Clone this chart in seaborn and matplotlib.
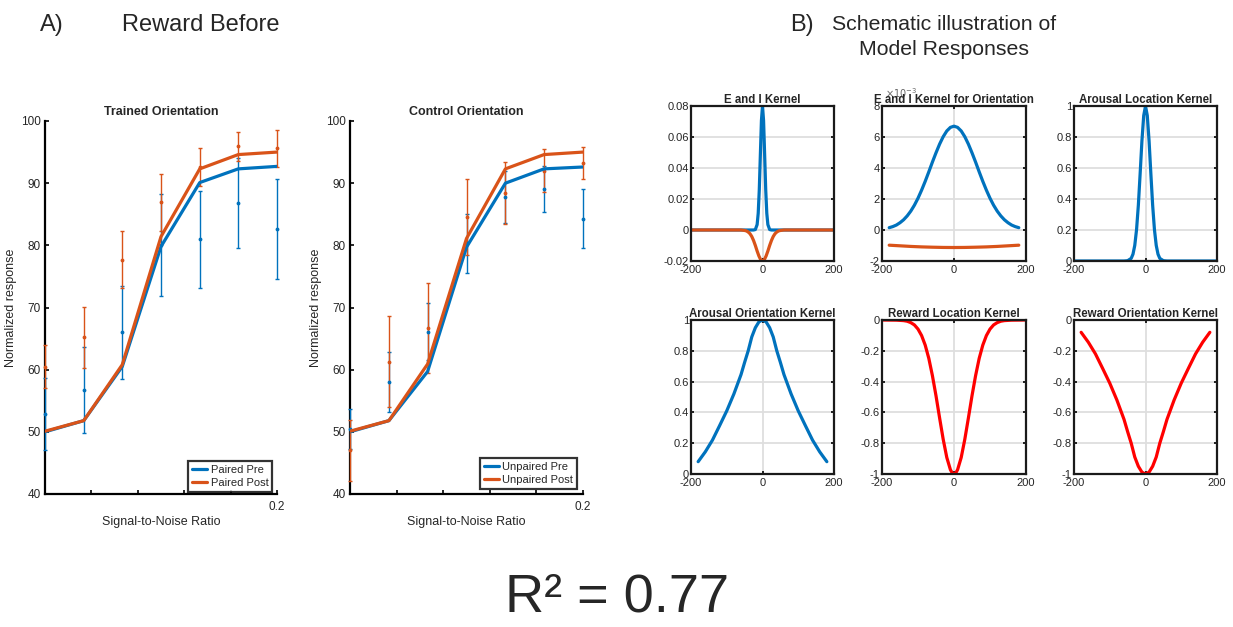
import numpy as np
import matplotlib
matplotlib.use("Agg")
import matplotlib.pyplot as plt
import seaborn as sns

# ---- data ----
snr = [0.1, 0.1167, 0.1333, 0.15, 0.1667, 0.1833, 0.2]

trained_pre_fit = [50.0, 51.8, 60.5, 79.8, 90.1, 92.3, 92.7]
trained_post_fit = [50.1, 51.8, 60.8, 81.4, 92.3, 94.6, 95.0]
trained_pre_mean = [52.9, 56.7, 66.0, 80.0, 81.0, 86.8, 82.6]
trained_pre_err = [5.8, 6.9, 7.5, 8.2, 7.8, 7.2, 8.0]
trained_post_mean = [60.5, 65.2, 77.7, 86.9, 92.6, 95.9, 95.6]
trained_post_err = [3.4, 4.9, 4.6, 4.6, 3.0, 2.4, 3.0]

control_pre_fit = [50.0, 51.8, 59.7, 79.7, 90.0, 92.3, 92.6]
control_post_fit = [50.1, 51.8, 60.9, 81.1, 92.3, 94.6, 95.0]
control_pre_mean = [50.5, 58.0, 66.1, 80.3, 87.8, 89.0, 84.3]
control_pre_err = [3.2, 4.8, 4.6, 4.8, 4.2, 3.7, 4.7]
control_post_mean = [47.0, 61.3, 66.7, 84.6, 88.4, 92.0, 93.2]
control_post_err = [4.9, 7.3, 7.2, 6.1, 5.0, 3.5, 2.6]

# E and I kernel (location)
ei_exc_x = [-200, -40, -25, -20, -15, -12, -9, -6, -3, 0, 3, 6, 9, 12, 15, 20, 25, 40, 200]
ei_exc_y = [0, 0, 0, 0.0003, 0.0035, 0.0108, 0.026, 0.0485, 0.0706, 0.08,
            0.0706, 0.0485, 0.026, 0.0108, 0.0035, 0.0003, 0, 0, 0]
ei_inh_x = [-200, -60, -50, -45, -40, -35, -30, -25, -20, -15, -10, -5, 0,
            5, 10, 15, 20, 25, 30, 35, 40, 45, 50, 60, 200]
ei_inh_y = [0, 0, -0.0003, -0.0006, -0.0013, -0.0024, -0.0042, -0.0068, -0.01, -0.0136, -0.0168, -0.0192, -0.02,
            -0.0192, -0.0168, -0.0136, -0.01, -0.0068, -0.0042, -0.0024, -0.0013, -0.0006, -0.0003, 0, 0]

# E and I kernel for orientation (x 10^-3)
ori_x = [-180, -170, -160, -150, -140, -130, -120, -110, -100, -90, -80, -70, -60, -50, -40, -30, -20, -10,
         0, 10, 20, 30, 40, 50, 60, 70, 80, 90, 100, 110, 120, 130, 140, 150, 160, 170, 180]
ori_exc_y = [0.15, 0.22, 0.32, 0.47, 0.66, 0.91, 1.22, 1.60, 2.05, 2.57, 3.14, 3.75, 4.38, 4.98, 5.54, 6.02, 6.39, 6.62,
             6.70, 6.62, 6.39, 6.02, 5.54, 4.98, 4.38, 3.75, 3.14, 2.57, 2.05, 1.60, 1.22, 0.91, 0.66, 0.47, 0.32, 0.22, 0.15]
ori_inh_x = [-180, -150, -120, -90, -60, -30, 0, 30, 60, 90, 120, 150, 180]
ori_inh_y = [-0.98, -1.02, -1.06, -1.09, -1.11, -1.125, -1.13, -1.125, -1.11, -1.09, -1.06, -1.02, -0.98]

# arousal kernels
aro_loc_x = [-200, -60, -50, -40, -35, -30, -25, -20, -15, -10, -5, 0, 5, 10, 15, 20, 25, 30, 35, 40, 50, 60, 200]
aro_loc_y = [0, 0, 0.002, 0.017, 0.044, 0.101, 0.203, 0.36, 0.563, 0.775, 0.938, 1.0,
             0.938, 0.775, 0.563, 0.36, 0.203, 0.101, 0.044, 0.017, 0.002, 0, 0]
aro_ori_x = [-180, -160, -140, -120, -100, -80, -60, -50, -40, -30, -20, -10, 0,
             10, 20, 30, 40, 50, 60, 80, 100, 120, 140, 160, 180]
aro_ori_y = [0.08, 0.144, 0.22, 0.314, 0.41, 0.52, 0.646, 0.725, 0.80, 0.89, 0.95, 0.988, 1.0,
             0.988, 0.95, 0.89, 0.80, 0.725, 0.646, 0.52, 0.41, 0.314, 0.22, 0.144, 0.08]

# reward kernels
rew_loc_x = [-200, -160, -140, -130, -120, -110, -100, -90, -80, -70, -60, -50, -40, -30, -20, -10, -5, 0,
             5, 10, 20, 30, 40, 50, 60, 70, 80, 90, 100, 110, 120, 130, 140, 160, 200]
rew_loc_y = [0, -0.001, -0.004, -0.008, -0.017, -0.032, -0.059, -0.101, -0.163, -0.249, -0.361, -0.492, -0.636,
             -0.775, -0.893, -0.972, -0.993, -1.0, -0.993, -0.972, -0.893, -0.775, -0.636, -0.492, -0.361,
             -0.249, -0.163, -0.101, -0.059, -0.032, -0.017, -0.008, -0.004, -0.001, 0]
rew_ori_x = [-180, -160, -140, -120, -100, -80, -60, -50, -40, -30, -20, -10, 0,
             10, 20, 30, 40, 50, 60, 80, 100, 120, 140, 160, 180]
rew_ori_y = [-0.08, -0.144, -0.22, -0.314, -0.41, -0.52, -0.646, -0.725, -0.80, -0.89, -0.95, -0.988, -1.0,
             -0.988, -0.95, -0.89, -0.80, -0.725, -0.646, -0.52, -0.41, -0.314, -0.22, -0.144, -0.08]

# ---- style ----
sns.set_theme(style="ticks")
plt.rcParams["font.family"] = ["Liberation Sans", "DejaVu Sans"]
plt.rcParams["axes.unicode_minus"] = False
plt.rcParams["xtick.direction"] = "in"
plt.rcParams["ytick.direction"] = "in"

BLUE = "#0072BD"
ORANGE = "#D95319"
RED = "#FF0000"
TXT = "#262626"

fig = plt.figure(figsize=(12.33, 6.27), dpi=100)
W, H = 1233, 627


def rect(left, top, right, bottom):
    return [left / W, (H - bottom) / H, (right - left) / W, (bottom - top) / H]


def psych_panel(ax, title, pre_fit, post_fit, pre_m, pre_e, post_m, post_e, labels, leg_anchor):
    ax.errorbar(snr, pre_m, yerr=pre_e, fmt=".", color=BLUE, ms=3.5, elinewidth=1.0,
                capsize=1.5, capthick=1.0, clip_on=False, zorder=3)
    ax.errorbar(snr, post_m, yerr=post_e, fmt=".", color=ORANGE, ms=3.5, elinewidth=1.0,
                capsize=1.5, capthick=1.0, clip_on=False, zorder=3)
    sns.lineplot(x=snr, y=pre_fit, ax=ax, color=BLUE, linewidth=2.3, label=labels[0], zorder=4)
    sns.lineplot(x=snr, y=post_fit, ax=ax, color=ORANGE, linewidth=2.3, label=labels[1], zorder=4)
    ax.set_xlim(0.1, 0.2)
    ax.set_ylim(40, 100)
    ax.set_yticks(range(40, 101, 10))
    ax.set_xticks([0.1, 0.12, 0.14, 0.16, 0.18, 0.2])
    ax.set_xticklabels(["", "", "", "", "", "0.2"])
    sns.despine(ax=ax)
    for s in ("left", "bottom"):
        ax.spines[s].set_linewidth(1.6)
        ax.spines[s].set_color("black")
    ax.tick_params(axis="both", length=3, width=1.2, labelsize=8.5, colors="black",
                   labelcolor=TXT, pad=3)
    ax.tick_params(axis="x", pad=5)
    ax.set_title(title, fontsize=9, fontweight="bold", pad=4)
    ax.set_xlabel("Signal-to-Noise Ratio", fontsize=9, color=TXT, labelpad=2)
    ax.set_ylabel("Normalized response", fontsize=9, color=TXT, labelpad=3)
    leg = ax.legend(loc="lower right", bbox_to_anchor=leg_anchor, borderaxespad=0,
                    fontsize=8, frameon=True, fancybox=False, handlelength=1.4,
                    handletextpad=0.3, labelspacing=0.3, borderpad=0.35)
    leg.get_frame().set_edgecolor("black")
    leg.get_frame().set_linewidth(1.6)
    for line in leg.get_lines():
        line.set_linewidth(2.3)


axA1 = fig.add_axes(rect(45, 121, 277, 494))
psych_panel(axA1, "Trained Orientation", trained_pre_fit, trained_post_fit,
            trained_pre_mean, trained_pre_err, trained_post_mean, trained_post_err,
            ["Paired Pre", "Paired Post"], (0.98, 0.005))

axA2 = fig.add_axes(rect(350, 121, 583, 494))
psych_panel(axA2, "Control Orientation", control_pre_fit, control_post_fit,
            control_pre_mean, control_pre_err, control_post_mean, control_post_err,
            ["Unpaired Pre", "Unpaired Post"], (0.975, 0.013))


def kernel_panel(box, title, curves, ylim, yticks, xlim=(-200, 200)):
    ax = fig.add_axes(rect(*box))
    for xs, ys, c in curves:
        sns.lineplot(x=xs, y=ys, ax=ax, color=c, linewidth=2.3, zorder=3)
    ax.set_xlim(*xlim)
    ax.set_ylim(*ylim)
    ax.set_xticks([-200, 0, 200])
    ax.set_yticks(yticks)
    ax.set_yticklabels([("%g" % v) for v in yticks])
    ax.grid(True, color="#dedede", linewidth=1.3)
    ax.set_axisbelow(True)
    for s in ax.spines.values():
        s.set_linewidth(1.6)
        s.set_color("#1a1a1a")
        s.set_zorder(5)
    ax.tick_params(axis="both", length=2.5, width=1.2, labelsize=8, colors="black",
                   labelcolor=TXT, pad=1.5, top=True, right=True)
    ax.tick_params(axis="x", pad=3.2)
    ax.set_title(title, fontsize=8.3, fontweight="bold", pad=2.5)
    return ax


col = [(691, 834), (882, 1026), (1074, 1217)]
row = [(106, 261), (320, 474)]

kernel_panel((col[0][0], row[0][0], col[0][1], row[0][1]), "E and I Kernel",
             [(ei_exc_x, ei_exc_y, BLUE), (ei_inh_x, ei_inh_y, ORANGE)],
             (-0.02, 0.08), [-0.02, 0, 0.02, 0.04, 0.06, 0.08])
ax_ori = kernel_panel((col[1][0], row[0][0], col[1][1], row[0][1]), "E and I Kernel for Orientation",
                      [(ori_x, ori_exc_y, BLUE), (ori_inh_x, ori_inh_y, ORANGE)],
                      (-2, 8), [-2, 0, 2, 4, 6, 8])
ax_ori.text(0.02, 1.04, r"$\times10^{-3}$", transform=ax_ori.transAxes, fontsize=7,
            color="#666666", ha="left", va="bottom", zorder=0)
kernel_panel((col[2][0], row[0][0], col[2][1], row[0][1]), "Arousal Location Kernel",
             [(aro_loc_x, aro_loc_y, BLUE)], (0, 1), [0, 0.2, 0.4, 0.6, 0.8, 1])
kernel_panel((col[0][0], row[1][0], col[0][1], row[1][1]), "Arousal Orientation Kernel",
             [(aro_ori_x, aro_ori_y, BLUE)], (0, 1), [0, 0.2, 0.4, 0.6, 0.8, 1])
kernel_panel((col[1][0], row[1][0], col[1][1], row[1][1]), "Reward Location Kernel",
             [(rew_loc_x, rew_loc_y, RED)], (-1, 0), [-1, -0.8, -0.6, -0.4, -0.2, 0])
kernel_panel((col[2][0], row[1][0], col[2][1], row[1][1]), "Reward Orientation Kernel",
             [(rew_ori_x, rew_ori_y, RED)], (-1, 0), [-1, -0.8, -0.6, -0.4, -0.2, 0])

# ---- headings ----
fig.text(40 / W, 1 - 25 / H, "A)", fontsize=17, va="center", ha="left")
fig.text(122 / W, 1 - 25 / H, "Reward Before", fontsize=17, va="center", ha="left")
fig.text(790 / W, 1 - 25 / H, "B)", fontsize=17, va="center", ha="left")
fig.text(944 / W, 1 - 37 / H, "Schematic illustration of\nModel Responses", fontsize=15.3,
         va="center", ha="center", linespacing=1.35)
fig.text(617 / W, 1 - 597 / H, "R² = 0.77", fontsize=39, va="center", ha="center")

fig.savefig("out.png", dpi=100)
